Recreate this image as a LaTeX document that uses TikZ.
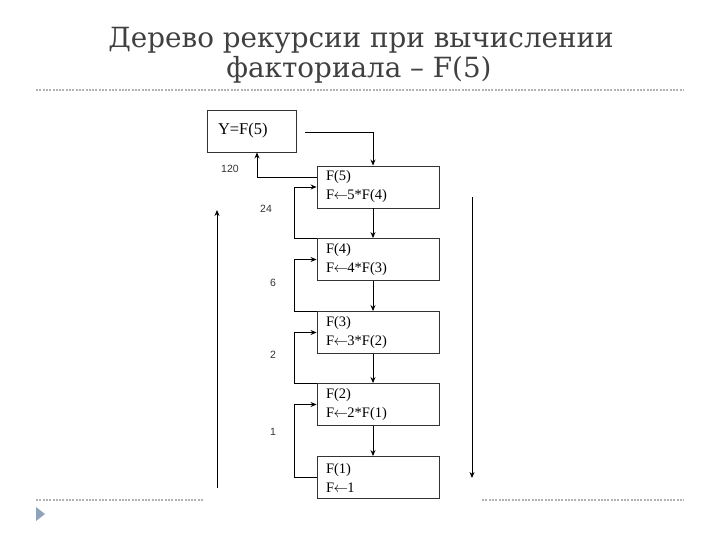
\documentclass[tikz,border=0pt]{standalone}
\usepackage{fontspec}
\setmainfont{Liberation Serif}
\newfontfamily\labelfont{Liberation Sans}
\newfontfamily\titlefont{DejaVu Serif}
\usetikzlibrary{arrows.meta}

\newcommand{\assign}{\kern-0.5pt$\leftarrow$\kern-0.5pt}

\tikzset{
  box/.style={draw=black!80, line width=0.9pt, minimum width=122pt, minimum height=42pt,
    text width=104pt, align=left, inner sep=0pt, font=\fontsize{14.5}{19}\selectfont},
  val/.style={font=\labelfont\fontsize{10.5}{12}\selectfont, text=black!80},
  title/.style={font=\titlefont\fontsize{27.8}{30}\selectfont, text=black!75, anchor=base},
  rule/.style={draw=black!30, line width=1.3pt, dash pattern=on 2pt off 1.3pt}
}

\begin{document}
\begin{tikzpicture}[x=1pt, y=-1pt, >={Stealth[length=6pt,width=5pt]}, line width=0.8pt]
    \useasboundingbox (0,0) rectangle (720,540);
    \node[title] (t1) at (361,48) {Дерево рекурсии при вычислении};
    \node[title] (t2) at (359,78) {факториала – F(5)};
    \draw[rule] (36,90) -- (684,90);
    \draw[rule] (36,500) -- (203,500);
    \draw[rule] (482,500) -- (684,500);
    \fill[fill={rgb,255:red,143;green,163;blue,188}] (36,507) -- (45,514) -- (36,521) -- cycle;

    \node[box, minimum width=89pt, text width=67pt, font=\fontsize{16.5}{18}\selectfont] (y) at (251.5,131) {Y=F(5)\\[4pt]};
    \node[box] (f5) at (378,187) {F(5)\\F\assign5*F(4)};
    \node[box] (f4) at (378,259.5) {F(4)\\F\assign4*F(3)};
    \node[box] (f3) at (378,332.5) {F(3)\\F\assign3*F(2)};
    \node[box] (f2) at (378,404.5) {F(2)\\F\assign2*F(1)};
    \node[box] (f1) at (378,477.5) {F(1)\\F\assign1};
    \coordinate (ys) at (305,132);

    \node[val] (v120) at (230,169) {120};
    \node[val] (v24) at (266,209) {24};
    \node[val] (v6) at (273,283) {6};
    \node[val] (v2) at (273,355) {2};
    \node[val] (v1) at (273,432) {1};

    \draw[->] (ys) -| ([xshift=-5pt]f5.north);
    \draw[->] ([xshift=-5pt]f5.south) -- ([xshift=-5pt]f4.north);
    \draw[->] ([xshift=-5pt]f4.south) -- ([xshift=-5pt]f3.north);
    \draw[->] ([xshift=-5pt]f3.south) -- ([xshift=-5pt]f2.north);
    \draw[->] ([xshift=-5pt]f2.south) -- ([xshift=-5pt]f1.north);
    \draw[->] (f1.west) -- ++(-22,0) |- (f2.west);
    \draw[->] (f2.north west) -- ++(-22,0) |- (f3.west);
    \draw[->] (f3.north west) -- ++(-22,0) |- (f4.west);
    \draw[->] (f4.north west) -- ++(-22,0) |- (f5.west);
    \draw[->] ([yshift=10pt]f5.west) -| ([xshift=5.5pt]y.south);

    \coordinate (up1) at (217,488);
    \coordinate (up2) at (217,210);
    \coordinate (dn1) at (472,197);
    \coordinate (dn2) at (472,478);
    \draw[->] (up1) -- (up2);
    \draw[->] (dn1) -- (dn2);
\end{tikzpicture}
\end{document}
